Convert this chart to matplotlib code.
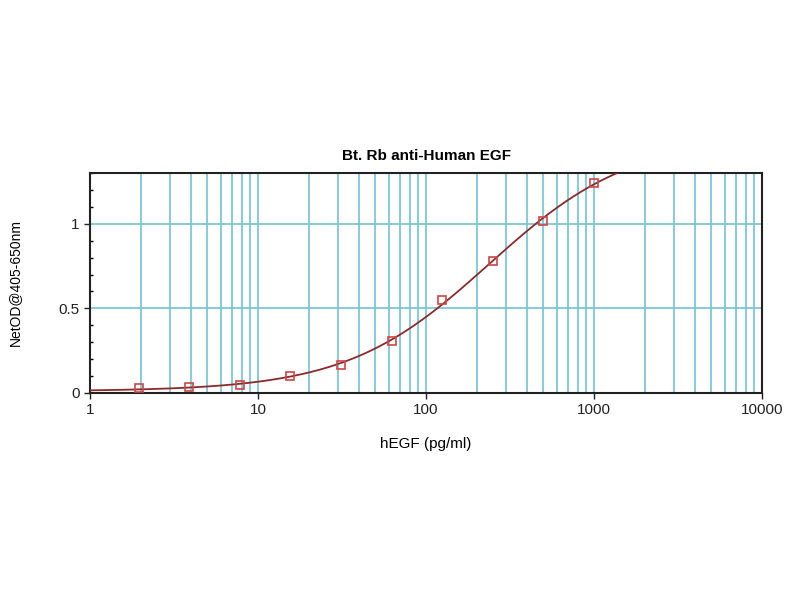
import numpy as np
import matplotlib
matplotlib.use("Agg")
import matplotlib.pyplot as plt
from matplotlib.ticker import LogLocator, NullFormatter, MultipleLocator

plt.rcParams["font.family"] = ["Liberation Sans", "DejaVu Sans"]

conc = [1.95, 3.9, 7.8, 15.6, 31.25, 62.5, 125, 250, 500, 1000]
od = [0.030, 0.035, 0.047, 0.100, 0.166, 0.305, 0.549, 0.780, 1.017, 1.243]

x = np.array(conc, float)
y = np.array(od, float)

def f4(p, xx):
    a, b, c, d = p
    return d + (a - d) / (1 + (xx / c) ** b)

# Levenberg-Marquardt fit of a 4-parameter logistic
p = np.array([0.01, 1.0, 300.0, 1.6])
lam = 1e-2
def resid(p):
    return f4(p, x) - y
for _ in range(500):
    r = resid(p)
    J = np.zeros((len(x), 4))
    for i in range(4):
        dp = np.zeros(4); h = 1e-6 * max(abs(p[i]), 1e-3); dp[i] = h
        J[:, i] = (resid(p + dp) - r) / h
    A = J.T @ J
    g = J.T @ r
    step = np.linalg.solve(A + lam * np.diag(np.diag(A)), -g)
    pn = p + step
    if pn[2] > 0 and np.sum(resid(pn) ** 2) < np.sum(r ** 2):
        p = pn; lam *= 0.5
    else:
        lam *= 3

xs = np.logspace(0, 4, 400)
ys = f4(p, xs)

fig = plt.figure(figsize=(8, 6), dpi=100)
ax = fig.add_axes([0.1125, 0.345, 0.84, 0.3667])
ax.set_xscale("log")
ax.set_xlim(1, 10000)
ax.set_ylim(0, 1.3)

grid_c = "#72c4d2"
ax.xaxis.set_major_locator(LogLocator(base=10, numticks=10))
ax.xaxis.set_minor_locator(LogLocator(base=10, subs=np.arange(2, 10), numticks=20))
ax.xaxis.set_minor_formatter(NullFormatter())
ax.set_xticks([1, 10, 100, 1000, 10000])
ax.set_xticklabels(["1", "10", "100", "1000", "10000"])
ax.yaxis.set_major_locator(MultipleLocator(0.5))
ax.yaxis.set_minor_locator(MultipleLocator(0.1))
ax.set_yticks([0, 0.5, 1])
ax.set_yticklabels(["0", "0.5", "1"])

ax.grid(True, which="both", axis="x", color=grid_c, lw=1.2)
ax.grid(True, which="major", axis="y", color=grid_c, lw=1.2)
ax.set_axisbelow(True)

ax.plot(xs, ys, color="#8b2a2a", lw=1.3, zorder=3)
ax.plot(x, y, ls="none", marker="s", ms=6, mfc="none", mec="#d04545", mew=1.2, zorder=4)

for s in ax.spines.values():
    s.set_linewidth(1.5)
    s.set_color("#222222")
ax.tick_params(which="major", direction="out", length=4, width=1, labelsize=11, colors="#222222")
ax.tick_params(which="minor", direction="in", length=2, width=1)
ax.tick_params(axis="x", which="minor", length=0)

ax.set_title("Bt. Rb anti-Human EGF", fontsize=11, fontweight="bold", pad=9)
ax.set_xlabel("hEGF (pg/ml)", fontsize=11, labelpad=14)
ax.set_ylabel("NetOD@405-650nm", fontsize=10, labelpad=26)

fig.savefig("out.png", dpi=100)
